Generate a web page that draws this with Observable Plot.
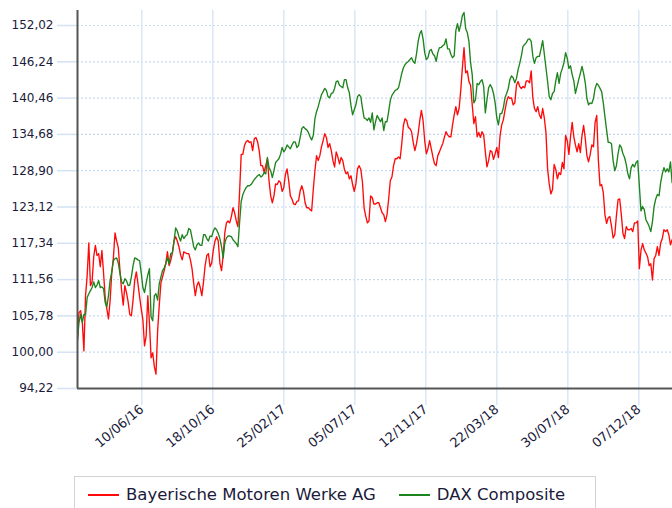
<!DOCTYPE html>
<html><head><meta charset="utf-8">
<script src="https://cdn.jsdelivr.net/npm/d3@7"></script>
<script src="https://cdn.jsdelivr.net/npm/@observablehq/plot@0.6"></script>
<style>
html,body{margin:0;padding:0;background:#fff;width:672px;height:508px;overflow:hidden;font-family:"DejaVu Sans",sans-serif;}
#chart{position:absolute;left:0;top:0;}
#legend{position:absolute;left:74px;top:476px;width:522px;height:44px;border:1px solid #d2d2d2;box-sizing:border-box;padding:8px 0 0 13px;display:flex;align-items:flex-start;}
.item{display:flex;align-items:center;font-size:16.5px;line-height:20px;color:#1b1b3b;margin-right:23px;white-space:nowrap;}
.sw{display:inline-block;width:31px;height:2px;margin-right:7px;}
</style></head><body>
<div id="chart"></div>
<div id="legend"></div>
<script>
// Series names and colours
const seriesNames = ["Bayerische Motoren Werke AG", "DAX Composite"];
const seriesColors = ["#ff0a0a", "#1e841e"];

// Sampling: one value every 3 calendar days starting at the first date
const startDate = "2016-02-13";
const stepDays = 3;

// Bayerische Motoren Werke AG (indexed)
const bmwValues = [
101.8,106.3,106.6,105.0,100.2,109.0,112.2,117.4,110.6,111.2,
115.2,117.0,115.4,115.7,113.6,116.2,112.6,108.7,106.9,105.3,
108.2,112.6,115.0,119.0,117.7,116.6,113.1,109.9,107.5,110.6,
109.5,108.0,106.0,105.8,108.3,111.4,112.8,110.9,108.8,106.9,
105.2,101.0,102.6,109.0,104.7,99.1,99.9,97.7,96.5,103.4,
107.5,111.0,112.0,113.0,114.2,116.0,113.8,114.6,115.8,117.7,
118.4,117.7,116.8,115.5,114.7,116.0,115.8,115.7,115.7,114.7,
113.3,111.0,109.0,110.6,111.2,110.3,109.0,111.2,113.8,115.4,
115.7,113.6,114.2,116.3,117.7,118.4,117.7,114.2,113.0,115.4,
119.0,120.6,
120.9,120.6,121.6,123.0,122.2,120.9,120.0,125.4,131.5,131.5,
132.9,133.5,133.7,133.4,133.5,132.1,134.0,134.2,133.5,132.1,
129.7,129.7,128.7,129.7,130.8,127.3,124.9,123.8,124.9,126.8,
126.7,127.3,127.0,125.6,126.2,128.3,129.2,127.3,124.9,124.4,
123.6,123.5,124.0,124.1,125.7,126.5,125.6,123.8,123.0,123.0,
122.7,122.5,125.9,128.9,131.3,130.5,131.3,132.7,133.7,134.8,
134.2,132.6,133.2,132.1,130.5,129.5,131.9,131.1,130.0,131.0,
130.5,129.1,128.4,128.7,127.6,128.1,126.7,125.6,126.8,129.2,
129.7,129.1,127.1,123.0,121.7,120.6,120.9,124.9,124.6,123.6,
123.6,123.8,
123.8,123.0,122.2,121.9,120.8,121.9,124.4,127.3,127.9,129.7,
130.8,130.8,131.1,130.8,133.2,136.1,137.2,136.9,135.8,135.6,
135.1,133.4,132.1,133.2,134.8,136.9,138.5,136.9,133.7,131.6,
132.4,133.7,132.4,131.1,130.0,129.7,131.3,131.9,132.6,133.2,
134.2,135.1,134.6,134.3,134.3,136.2,137.8,139.1,137.8,138.8,
141.7,145.3,148.5,144.5,144.8,143.1,142.5,139.4,136.4,137.5,
134.3,135.0,134.2,135.1,134.6,131.9,129.5,130.5,132.1,131.9,
130.7,131.6,132.6,131.0,134.5,136.2,137.0,138.5,139.9,140.7,
140.4,140.5,139.4,139.7,142.5,143.1,142.3,142.0,142.3,142.1,
143.2,
143.2,142.9,144.8,140.5,138.8,138.3,139.1,137.8,137.2,138.8,
137.3,135.0,129.2,126.8,125.2,125.9,129.9,129.1,127.6,128.6,
128.3,130.2,129.2,134.5,133.7,131.5,134.3,136.6,134.3,133.0,
131.9,133.2,131.8,134.5,136.1,134.0,131.3,130.3,131.5,133.0,
132.7,136.6,137.7,130.5,126.5,126.7,125.4,121.9,120.5,121.4,
121.6,120.1,118.2,118.7,121.7,124.3,124.4,121.9,118.9,118.1,
120.0,119.5,119.5,119.7,119.2,120.6,120.6,120.9,113.3,116.2,
117.3,116.3,115.8,115.2,113.8,114.1,111.5,114.9,115.4,116.8,
115.4,117.4,118.1,119.5,119.2,119.5,118.7,117.1,117.9
];

// DAX Composite (indexed)
const daxValues = [
101.8,104.7,106.0,104.7,106.0,106.0,108.7,109.3,109.8,110.3,
111.2,110.3,110.7,111.4,110.3,110.4,110.1,107.9,107.2,109.0,
111.4,112.8,114.6,114.9,115.0,114.2,112.6,111.2,110.9,111.7,
111.4,110.6,110.7,112.0,113.8,115.0,114.9,114.7,114.6,112.6,
110.3,109.5,111.0,112.3,113.3,105.6,105.0,109.0,109.3,108.3,
110.9,112.0,113.0,113.4,114.1,115.0,114.1,115.7,115.8,117.7,
119.8,119.3,118.4,117.7,118.7,118.1,118.5,118.7,119.7,119.5,
118.2,116.8,116.3,117.1,117.4,117.0,117.0,118.7,118.7,118.1,
117.7,118.5,118.4,119.3,119.8,119.5,118.9,118.1,116.8,115.0,
117.4,118.2,
118.5,118.5,118.4,117.9,117.6,117.3,116.8,120.6,124.0,125.1,
125.7,126.2,126.5,126.5,126.7,127.1,127.5,127.8,128.1,128.3,
127.9,128.1,128.6,128.4,131.0,129.4,128.9,127.8,128.9,130.2,
130.5,130.8,131.5,132.6,131.9,132.3,133.0,132.7,132.4,133.0,
133.5,133.5,132.6,132.9,134.2,135.6,135.9,135.6,135.4,135.0,
134.3,133.8,134.5,137.2,138.3,139.1,140.1,141.0,141.5,142.0,
141.7,140.7,140.5,141.2,141.3,142.0,143.1,143.2,142.5,142.3,
142.1,143.4,143.4,142.1,141.3,139.3,137.8,138.6,139.4,140.7,
141.0,140.7,138.9,137.3,137.2,136.9,137.3,136.6,138.1,135.4,
136.7,137.7,
137.2,136.7,137.3,135.3,136.7,136.7,138.3,140.1,140.9,141.3,
141.7,141.8,142.1,143.2,144.4,145.3,145.8,146.1,146.3,146.6,
146.9,146.3,146.0,147.5,149.5,150.7,151.2,149.9,147.7,146.6,
146.9,148.0,148.2,147.5,147.2,146.3,147.7,148.5,148.5,148.8,
149.0,149.9,148.3,148.3,147.4,146.9,147.2,151.2,152.3,151.1,
152.2,153.6,154.1,151.5,150.9,149.5,146.1,144.2,139.7,140.2,
142.8,142.6,143.1,143.4,142.3,138.1,140.2,142.1,142.6,142.1,
141.2,139.7,137.3,136.2,138.0,138.0,138.9,140.5,141.2,142.0,
143.4,144.0,143.7,142.9,143.6,145.0,146.0,147.2,148.7,149.0,
149.3,
149.8,149.9,149.5,147.1,146.0,146.9,147.1,147.1,148.3,149.6,
147.5,145.3,143.1,140.7,140.2,141.2,141.5,143.2,144.5,142.8,
144.4,145.2,146.1,147.7,146.8,145.2,145.6,144.2,143.2,141.2,
142.3,143.4,144.4,145.5,144.4,142.9,140.4,139.4,139.7,139.6,
140.4,142.0,142.8,142.5,142.0,141.5,139.7,137.5,135.4,133.4,
133.4,133.2,130.5,128.9,129.7,131.6,133.0,132.6,131.6,131.0,
129.9,128.4,127.6,129.4,129.9,129.5,130.2,130.5,126.5,122.5,
123.2,122.7,121.1,120.6,120.0,119.2,120.8,123.2,124.4,125.1,
124.9,127.0,128.4,129.4,128.7,129.2,128.7,130.3,127.0
];

// Axis ticks
const yTicks = [94.22, 100.00, 105.78, 111.56, 117.34, 123.12, 128.90, 134.68, 140.46, 146.24, 152.02];
const xTickLabels = ["10/06/16", "18/10/16", "25/02/17", "05/07/17", "12/11/17", "22/03/18", "30/07/18", "07/12/18"];
const xDomainLabels = ["2016-02-13T07:00Z", "2019-02-06T17:00Z"];
const yDomain = [94.22, 154.41];

const parseTick = d3.utcParse("%d/%m/%y");
const fmtTick = d3.utcFormat("%d/%m/%y");
const xTicks = xTickLabels.map(parseTick);
const xDomain = xDomainLabels.map(s => new Date(s));
const t0 = new Date(startDate + "T00:00Z");
const dateAt = i => d3.utcDay.offset(t0, i * stepDays);

const bmw = bmwValues.map((v, i) => ({date: dateAt(i), value: v}));
const dax = daxValues.map((v, i) => ({date: dateAt(i), value: v}));
const yFmt = d => d3.format(".2f")(d).replace(".", ",");
const textColor = "#1b1b3b";

const chart = Plot.plot({
  width: 672, height: 470,
  marginLeft: 77, marginRight: 0, marginTop: 10, marginBottom: 82,
  style: {fontFamily: "DejaVu Sans", fontSize: "12px", background: "#fff", color: textColor, overflow: "visible"},
  x: {type: "utc", domain: xDomain},
  y: {domain: yDomain},
  marks: [
    Plot.ruleY(yTicks, {stroke: "#c6daf1", strokeDasharray: "2,2", strokeWidth: 1.2}),
    Plot.ruleX(xTicks, {stroke: "#dde8f6", strokeWidth: 1.6}),
    Plot.axisY({ticks: yTicks, tickSize: 20, tickPadding: 4, stroke: "#d3e2f4", strokeWidth: 1.5, fill: textColor, tickFormat: yFmt, label: null}),
    Plot.axisX({ticks: xTicks, tickSize: 17, tickPadding: 2, tickRotate: -40, fontSize: 13, stroke: "#dde8f6", strokeWidth: 1.6, fill: textColor, tickFormat: fmtTick, label: null}),
    Plot.lineY(bmw, {x: "date", y: "value", stroke: seriesColors[0], strokeWidth: 1.35, clip: true}),
    Plot.lineY(dax, {x: "date", y: "value", stroke: seriesColors[1], strokeWidth: 1.35, clip: true}),
    Plot.ruleX([xDomain[0]], {stroke: "#555", strokeWidth: 2}),
    Plot.ruleY([yDomain[0]], {stroke: "#555", strokeWidth: 2})
  ]
});
document.getElementById("chart").appendChild(chart);

const legend = document.getElementById("legend");
seriesNames.forEach((name, i) => {
  const item = document.createElement("div");
  item.className = "item";
  const sw = document.createElement("span");
  sw.className = "sw";
  sw.style.background = seriesColors[i];
  item.appendChild(sw);
  item.appendChild(document.createTextNode(name));
  legend.appendChild(item);
});
</script>
</body></html>
